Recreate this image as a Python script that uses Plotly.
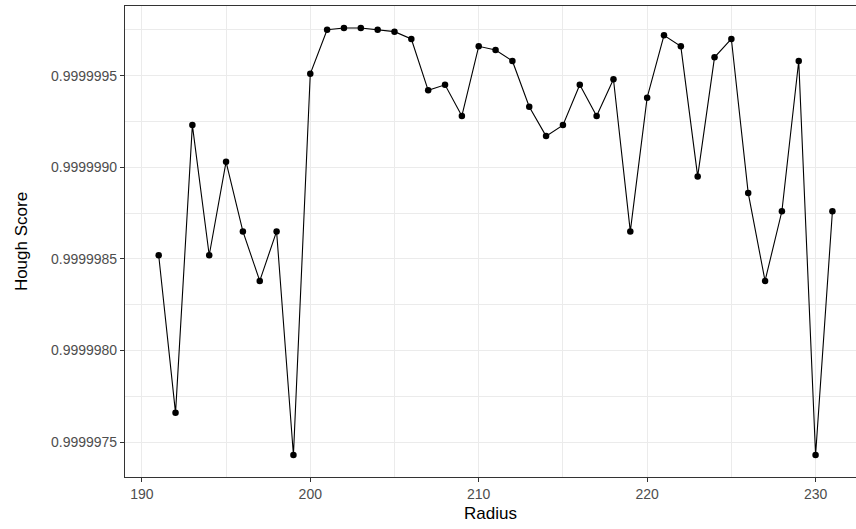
import plotly.graph_objects as go

radius = list(range(191, 232))
hough_score = [
    0.99999852, 0.99999766, 0.99999923, 0.99999852, 0.99999903,
    0.99999865, 0.99999838, 0.99999865, 0.99999743, 0.99999951,
    0.99999975, 0.99999976, 0.99999976, 0.99999975, 0.99999974,
    0.99999970, 0.99999942, 0.99999945, 0.99999928, 0.99999966,
    0.99999964, 0.99999958, 0.99999933, 0.99999917, 0.99999923,
    0.99999945, 0.99999928, 0.99999948, 0.99999865, 0.99999938,
    0.99999972, 0.99999966, 0.99999895, 0.99999960, 0.99999970,
    0.99999886, 0.99999838, 0.99999876, 0.99999958, 0.99999743,
    0.99999876,
]
x_ticks = [190, 200, 210, 220, 230]
y_ticks = [0.9999975, 0.9999980, 0.9999985, 0.9999990, 0.9999995]
y_tick_labels = ["0.9999975", "0.9999980", "0.9999985", "0.9999990", "0.9999995"]

fig = go.Figure(
    go.Scatter(
        x=radius,
        y=hough_score,
        mode="lines+markers",
        line=dict(color="black", width=1.1),
        marker=dict(color="black", size=6.5),
        showlegend=False,
    )
)

grid = "#EBEBEB"
fig.update_layout(
    width=856,
    height=529,
    margin=dict(l=125, r=0, t=6, b=52, pad=0),
    paper_bgcolor="white",
    plot_bgcolor="white",
    font=dict(family="Liberation Sans, Arial, sans-serif", color="#4D4D4D", size=14),
    xaxis=dict(
        range=[189.0, 232.4],
        tickvals=x_ticks,
        ticktext=[str(v) for v in x_ticks],
        showgrid=True,
        gridcolor=grid,
        gridwidth=1.1,
        minor=dict(tickvals=[195, 205, 215, 225], showgrid=True, gridcolor=grid, gridwidth=0.6),
        showline=True,
        linecolor="#333333",
        linewidth=1.1,
        mirror=True,
        ticks="outside",
        ticklen=4,
        tickcolor="#333333",
        tickfont=dict(size=14, color="#4D4D4D"),
        zeroline=False,
        title=dict(text="Radius", font=dict(size=17, color="black"), standoff=6),
    ),
    yaxis=dict(
        range=[0.99999731, 0.99999988],
        tickvals=y_ticks,
        ticktext=y_tick_labels,
        showgrid=True,
        gridcolor=grid,
        gridwidth=1.1,
        minor=dict(
            tickvals=[0.99999775, 0.99999825, 0.99999875, 0.99999925, 0.99999975],
            showgrid=True,
            gridcolor=grid,
            gridwidth=0.6,
        ),
        showline=True,
        linecolor="#333333",
        linewidth=1.1,
        ticks="outside",
        ticklen=4,
        tickcolor="#333333",
        tickfont=dict(size=14, color="#4D4D4D"),
        zeroline=False,
        title=dict(text="Hough Score", font=dict(size=17, color="black"), standoff=19),
    ),
)

fig.write_html("out.html")
